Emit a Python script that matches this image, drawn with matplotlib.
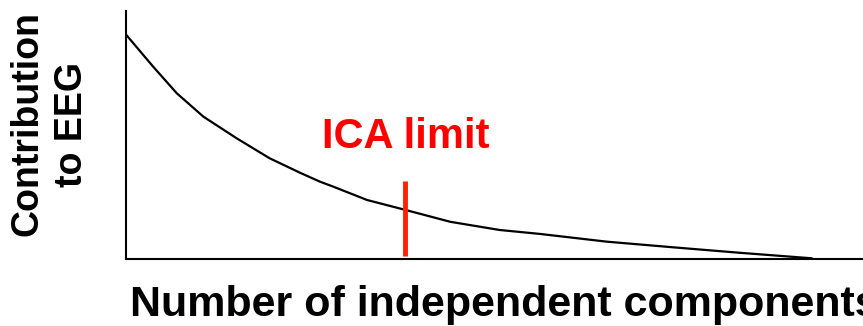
import matplotlib.pyplot as plt

# curve (x: components, y: contribution, both 0-100 scale)
comp_x = [0, 3.7, 6.9, 10.5, 15.0, 19.5, 23.6, 26.3, 28.1, 32.7, 37.9, 44.0, 50.7, 56.2, 65.2, 74.3, 83.3, 93.0]
contrib_y = [90.5, 77.5, 66.8, 57.4, 48.7, 40.6, 34.8, 31.2, 29.2, 23.8, 19.8, 15.0, 11.7, 10.1, 7.0, 4.7, 2.5, 0.3]

ica_limit_x = 37.9
ica_limit_y = [1.2, 31.5]

plt.rcParams['font.family'] = ['Liberation Sans', 'DejaVu Sans']

fig = plt.figure(figsize=(8.63, 3.26), dpi=100)
ax = fig.add_axes([126 / 863, 67 / 326, 737 / 863, 248 / 326])

ax.plot(comp_x, contrib_y, color='black', lw=1.6, solid_joinstyle='round')
ax.plot([ica_limit_x, ica_limit_x], ica_limit_y, color='#ff2000', lw=3.5, solid_capstyle='butt')
ax.text(ica_limit_x, 49.2, 'ICA limit', color='#ff0000', fontsize=30, fontweight='bold',
        ha='center', va='center')

ax.set_xlim(0, 100)
ax.set_ylim(0, 100)
ax.spines['top'].set_visible(False)
ax.spines['right'].set_visible(False)
for s in ['left', 'bottom']:
    ax.spines[s].set_linewidth(1.5)
ax.set_xticks([])
ax.set_yticks([])

# the reference cuts the last letter of this label at the right edge
fig.text(130 / 863, 1 - 305 / 326, 'Number of independent components', fontsize=31,
         fontweight='bold', ha='left', va='center')
fig.text(50 / 863, 1 - 124 / 326, 'Contribution\nto EEG', fontsize=27, fontweight='bold',
         rotation=90, ha='center', va='center', multialignment='center', linespacing=1.3)

fig.savefig('out.png', dpi=100)
